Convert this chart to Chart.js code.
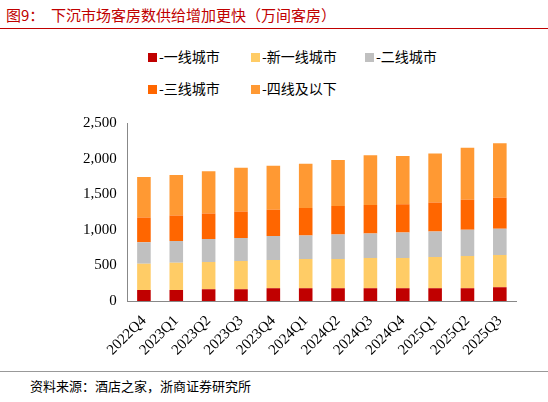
<!DOCTYPE html>
<html><head><meta charset="utf-8">
<script src="https://cdn.jsdelivr.net/npm/chart.js@4"></script>
<style>
body{margin:0;width:548px;height:402px;background:#fff;font-family:"Liberation Serif","Noto Sans CJK SC",serif;position:relative;overflow:hidden}
#title{position:absolute;left:6px;top:4px;color:#c00000;font-size:15px;font-family:"Noto Sans CJK SC";}
#tl{position:absolute;left:0;top:28px;width:548px;border-top:1px solid #c00000}
#src{position:absolute;left:30px;top:376px;font-size:13px;font-family:"Noto Sans CJK SC";color:#000}
#sl{position:absolute;left:0;top:371px;width:548px;border-top:1px solid #999}
.lg{position:absolute;font-size:14px;font-family:"Noto Sans CJK SC";}
.lg i{display:inline-block;width:9px;height:9px;margin-right:2px}
#wrap{position:absolute;left:0;top:100px;width:548px;height:270px}
</style></head><body>
<div id="title">图9：&nbsp;&nbsp;下沉市场客房数供给增加更快（万间客房）</div>
<div id="tl"></div>
<div class="lg" style="left:148px;top:46px"><i style="background:#c00000"></i>-一线城市</div>
<div class="lg" style="left:251px;top:46px"><i style="background:#ffcc66"></i>-新一线城市</div>
<div class="lg" style="left:365px;top:46px"><i style="background:#c0c0c0"></i>-二线城市</div>
<div class="lg" style="left:148px;top:78px"><i style="background:#ff6600"></i>-三线城市</div>
<div class="lg" style="left:251px;top:78px"><i style="background:#ff9933"></i>-四线及以下</div>
<div id="wrap"><canvas id="c"></canvas></div>
<div id="sl"></div>
<div id="src">资料来源：酒店之家，浙商证券研究所</div>
<script>
const labels = ['2022Q4','2023Q1','2023Q2','2023Q3','2023Q4','2024Q1','2024Q2','2024Q3','2024Q4','2025Q1','2025Q2','2025Q3'];
const tier1 = [156,156,165,165,179,179,179,179,179,179,179,193];
const newTier1 = [367,381,385,399,399,413,413,427,427,440,454,454];
const tier2 = [303,307,322,321,335,330,344,344,357,358,367,367];
const tier3 = [348,358,357,372,371,385,399,399,395,408,422,436];
const tier4 = [569,569,592,615,615,620,647,697,679,688,729,766];

new Chart(document.getElementById('c'), {
  type: 'bar',
  data: {
    labels: labels,
    datasets: [
      {data: tier1, backgroundColor: '#c00000'},
      {data: newTier1, backgroundColor: '#ffcc66'},
      {data: tier2, backgroundColor: '#c0c0c0'},
      {data: tier3, backgroundColor: '#ff6600'},
      {data: tier4, backgroundColor: '#ff9933'}
    ]
  },
  options: {
    responsive: true, maintainAspectRatio: false, animation: false,
    layout: {padding: {left: 80, right: 32, top: 23, bottom: 8}},
    plugins: {legend: {display: false}, tooltip: {enabled: false}},
    datasets: {bar: {categoryPercentage: 1, barPercentage: 0.42}},
    scales: {
      x: {stacked: true, grid: {display: false, drawTicks: true}, border: {color: '#888'},
        ticks: {maxRotation: 45, minRotation: 45, color: '#000', font: {family: 'Liberation Serif', size: 15}}},
      y: {stacked: true, min: 0, max: 2500, grid: {display: false}, border: {color: '#888'},
        ticks: {stepSize: 500, color: '#000', font: {family: 'Liberation Serif', size: 15},
          callback: v => v.toLocaleString('en-US')}}
    }
  }
});
</script>
</body></html>
